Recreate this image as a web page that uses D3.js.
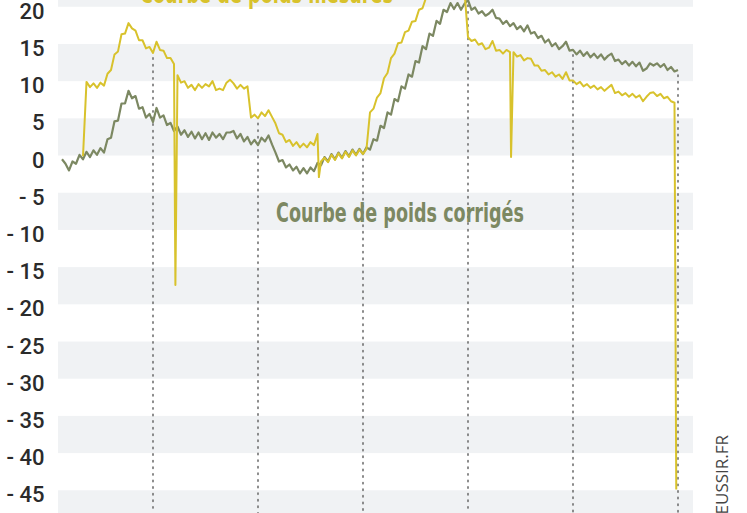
<!DOCTYPE html>
<html><head><meta charset="utf-8">
<script src="https://cdn.jsdelivr.net/npm/d3@7"></script>
<style>html,body{margin:0;padding:0;background:#fff;overflow:hidden}</style>
</head><body><svg id="c" width="747" height="513"></svg>
<script>
// ---------- DATA ----------
const seriesNames = ["Courbe de poids mesurés", "Courbe de poids corrigés"];
const correctedStartDay = 4;
const corrected = [
 0.0,-0.6,-1.5,-0.3,-0.6,0.6,0.0,1.0,0.3,1.2,0.6,1.5,0.9,2.7,2.9,5.1,5.2,7.5,7.5,9.2,
 8.2,8.5,6.8,7.0,5.6,6.1,5.0,6.9,5.6,5.9,4.6,4.9,3.8,4.4,3.3,3.9,3.0,3.7,2.8,3.6,
 2.7,3.5,2.6,3.6,2.9,3.4,2.7,3.6,3.6,3.8,2.8,3.4,2.4,3.0,2.0,2.6,1.9,2.9,2.4,3.2,
 2.0,0.9,-0.3,-0.1,-1.1,-0.7,-1.5,-1.0,-1.9,-1.2,-1.9,-1.1,-1.6,-0.5,-0.8,0.3,-0.3,0.7,0.0,0.9,
 0.2,1.1,0.4,1.3,0.6,1.4,0.7,1.6,1.3,2.7,2.5,4.5,4.2,6.3,6.0,8.1,7.8,9.8,9.5,11.4,
 11.1,13.2,13.0,15.2,14.8,16.9,16.6,18.6,18.2,20.1,19.8,21.0,20.2,21.0,20.1,20.9,21.4,20.1,20.4,19.6,
 19.9,19.3,19.6,20.1,19.0,18.9,18.2,18.6,17.9,18.3,17.5,17.9,17.2,18.0,16.9,17.1,16.3,16.6,15.7,16.1,
 15.2,15.6,14.8,15.2,15.8,14.6,14.7,14.1,14.6,13.9,14.4,13.7,14.2,13.6,14.1,13.4,13.9,14.2,13.2,13.4,
 12.8,13.2,12.6,13.1,12.5,13.0,11.9,12.2,12.9,12.6,12.9,12.4,12.8,12.0,12.4,11.8,12.0
];
const measuredStartDay = 10;
const measured = [
 0.4,10.4,9.7,10.2,9.6,10.3,9.9,11.5,12.0,14.1,14.5,16.8,16.9,18.3,17.6,17.3,16.0,16.0,14.9,15.1,
 14.3,15.8,14.7,14.6,13.6,13.6,12.8,11.3,10.3,10.5,9.6,10.0,9.3,10.1,9.6,10.1,9.8,10.5,9.3,9.5,
 9.3,10.3,10.7,10.2,9.5,10.0,9.5,9.8,5.6,6.0,5.5,6.3,5.8,6.6,5.7,4.8,3.5,3.3,2.3,2.6,
 1.8,2.3,1.6,2.1,1.6,2.3,1.9,3.4,-0.3,0.2,-0.4,0.6,-0.1,0.8,0.1,1.0,0.3,1.2,0.5,1.3,
 0.7,1.4,6.3,6.8,8.3,8.9,10.9,11.6,13.6,14.2,15.6,15.7,17.1,17.3,18.5,18.6,20.1,20.3,21.7,21.8,
 22.9,22.9,23.8,23.6,24.2,23.8,24.0,23.3,23.4,22.6,16.4,15.9,16.1,15.4,15.6,14.8,15.0,15.9,14.6,14.7,
 14.2,14.7,14.4,14.4,13.8,14.0,13.3,13.6,13.5,12.6,12.6,11.9,12.0,11.4,11.7,11.1,11.4,10.8,11.7,10.6,
 10.6,10.1,10.4,9.8,10.1,9.6,9.9,9.4,9.7,9.2,9.6,10.0,8.9,9.1,8.6,8.9,8.4,8.8,8.3,8.6,
 7.8,8.4,8.9,9.0,8.5,8.8,8.2,8.4,7.8,7.6
];
// isolated readings of the measured curve between days: [day, value]
const measuredDrops = [[36.4, -16.9], [77.4, -2.4], [132.3, 0.3], [179.5, -44.4]];
const monthDays = [30, 60, 90, 120, 150, 180];
const yTicks = [20, 15, 10, 5, 0, -5, -10, -15, -20, -25, -30, -35, -40, -45];
const yTickLabels = ["20","15","10","5","0","- 5","- 10","- 15","- 20","- 25","- 30","- 35","- 40","- 45"];
const bandTops = [25, 15, 5, -5, -15, -25, -35, -45];
const credit = "REUSSIR.FR";

// ---------- LAYOUT ----------
const W = 747, H = 513;
const colMeasured = "#d8c22c", colCorrected = "#7c8862";
const svg = d3.select("#c");
const x = d3.scaleLinear().domain([0, 180]).range([48, 678]);
const y = d3.scaleLinear().domain([20, -45]).range([10.5, 494]);
const plotDays = [2.86, 184.3];

// bands
svg.append("g").selectAll("rect").data(bandTops).join("rect")
  .attr("x", x(plotDays[0])).attr("width", x(plotDays[1]) - x(plotDays[0]))
  .attr("y", d => y(d + 0.5)).attr("height", d => y(d - 4.5) - y(d + 0.5))
  .attr("fill", "#f0f2f4");

// y axis labels
const yAxis = d3.axisLeft(y).tickValues(yTicks).tickSize(0).tickPadding(0)
  .tickFormat((d, i) => yTickLabels[i]);
const gy = svg.append("g").attr("transform", "translate(44.5,0)").call(yAxis);
gy.select(".domain").remove();
gy.selectAll("text").attr("font-family", "Roboto, sans-serif").attr("font-weight", 500)
  .attr("font-size", 22).attr("fill", "#2b2b2b").attr("dy", "0.36em");

// series points
const corrPts = corrected.map((v, i) => [correctedStartDay + i, v]);
const measPts = measured.map((v, i) => [measuredStartDay + i, v])
  .concat(measuredDrops).sort((a, b) => a[0] - b[0]);

// dotted month lines (start just under the upper curve)
const valAt = (arr, start, d) => { const v = arr[d - start]; return v === undefined ? -Infinity : v; };
svg.append("g").selectAll("line").data(monthDays).join("line")
  .attr("x1", d => x(d)).attr("x2", d => x(d))
  .attr("y1", d => y(Math.max(valAt(corrected, correctedStartDay, d), valAt(measured, measuredStartDay, d))) + 5)
  .attr("y2", H)
  .attr("stroke", "#6f6f6f").attr("stroke-width", 1.6)
  .attr("stroke-dasharray", "1.4,5.2").attr("stroke-linecap", "round");

const line = d3.line().x(d => x(d[0])).y(d => y(d[1]));
svg.append("path").datum(corrPts).attr("d", line).attr("fill", "none")
  .attr("stroke", colCorrected).attr("stroke-width", 2.2).attr("stroke-linejoin", "round");
svg.append("path").datum(measPts).attr("d", line).attr("fill", "none")
  .attr("stroke", colMeasured).attr("stroke-width", 2).attr("stroke-linejoin", "round");

// series labels
const lab = (t, xx, yy, w, c) => svg.append("text").attr("x", xx).attr("y", yy).text(t)
  .attr("font-family", "'Liberation Sans Narrow', 'DejaVu Sans Condensed', sans-serif")
  .attr("font-weight", "bold").attr("font-size", 26).attr("fill", c)
  .attr("textLength", w).attr("lengthAdjust", "spacingAndGlyphs");
lab(seriesNames[0], 140, 3, 253, colMeasured);
lab(seriesNames[1], 276, 222, 248, colCorrected);

// credit
svg.append("text").attr("transform", "translate(728,435) rotate(-90)")
  .attr("text-anchor", "end").text(credit)
  .attr("font-family", "'Open Sans', sans-serif").attr("font-size", 17).attr("fill", "#444");
</script></body></html>
